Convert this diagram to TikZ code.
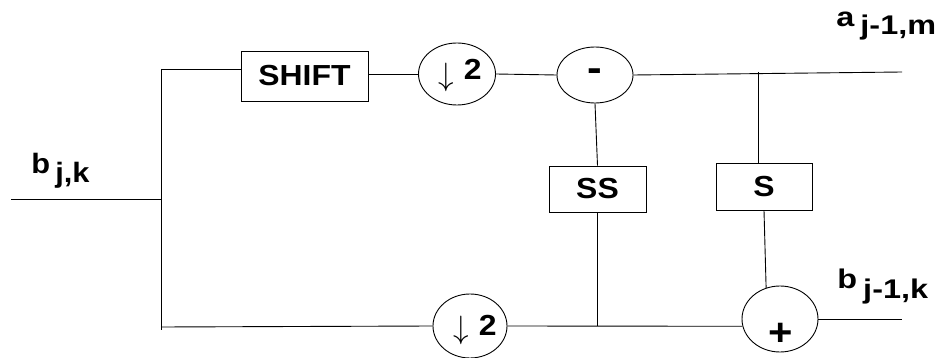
\RequirePackage{fix-cm}
\documentclass[tikz,border=0pt]{standalone}
\usepackage{fontspec}
\usepackage{graphicx}
\setmainfont{Liberation Sans}
\newfontfamily\lbl{Liberation Sans}[FakeStretch=1.1]
\newfontfamily\lblwide{Liberation Sans}[FakeStretch=1.2]
\usetikzlibrary{shapes.geometric}

\newcommand{\dnsym}{\scalebox{1.25}[1.3]{$\downarrow$}}
\newcommand{\lblfont}[1]{\lbl\bfseries\fontsize{#1}{#1}\selectfont}
\newcommand{\widefont}[1]{\lblwide\bfseries\fontsize{#1}{#1}\selectfont}

\begin{document}
\begin{tikzpicture}[x=1pt,y=-1pt,line width=0.9pt,
  txt/.style={inner sep=0pt,font=\lblfont{28}},
  wtxt/.style={inner sep=0pt,font=\widefont{27}},
  blk/.style={draw,rectangle,inner sep=0pt,font=\lblfont{29}},
  op/.style={draw,ellipse,inner sep=0pt},
  arrowtxt/.style={inner sep=0pt,anchor=base west,font=\fontsize{24.88}{30}\selectfont}]
\useasboundingbox (0,0) rectangle (943,358);

% processing blocks
\node[blk,minimum width=127pt,minimum height=50pt] (shift) at (304.5,76) {SHIFT};
\node[op,minimum width=77pt,minimum height=62pt] (dn1) at (457,74) {};
\node[op,minimum width=76pt,minimum height=56pt] (minus) at (595,75) {};
\node[blk,minimum width=97pt,minimum height=46pt] (ss) at (597.5,189) {SS};
\node[blk,minimum width=96pt,minimum height=47pt] (s) at (764,186.5) {S};
\node[op,minimum width=74pt,minimum height=64pt] (dn2) at (470,326) {};
\node[op,minimum width=76pt,minimum height=66pt] (plus) at (780,319) {};

% symbols inside the circles
\node[arrowtxt] (dn1t) at (438,86) {\dnsym\hspace{1pt}\raisebox{6pt}{\lblfont{29} 2}};
\node[arrowtxt] (dn2t) at (453,338) {\dnsym\hspace{1pt}\raisebox{3pt}{\lblfont{29} 2}};
\node[inner sep=0pt,anchor=base,font=\lblfont{40}] (minust) at (594.5,82) {-};
\node[inner sep=0pt,anchor=base,font=\lblfont{38}] (plust) at (781,345) {+};

% signal labels
\node[txt,anchor=base west] (bjk) at (31,174) {b\hspace{5pt}\raisebox{-9pt}{j,k}};
\node[wtxt,anchor=base west] (ajm) at (836,27) {a\hspace{6pt}\raisebox{-8pt}{j-1,m}};
\node[wtxt,anchor=base west] (bjmk) at (837,288) {b\hspace{6pt}\raisebox{-10pt}{j-1,k}};

% wiring points
\coordinate (in) at (11,199);
\coordinate (split) at (161,199);
\coordinate (ttop) at (161,69);
\coordinate (tbot) at (161,327);
\coordinate (aout) at (902,72);
\coordinate (tapA) at (758,72);
\coordinate (bout) at (902,319);

% connectors
\draw (in) -- (split);
\draw (ttop) -- ([yshift=-3pt]tbot);
\draw (ttop) -- (ttop -| shift.west);
\draw (dn1.west -| shift.east) -- (dn1.west);
\draw (dn1.east) -- (minus.west);
\draw (minus.east) -- (aout);
\draw (tapA) -- (tapA |- s.north);
\draw (minus.south) -- (ss.north);
\draw (s.south) -- (plus.114);
\draw (tbot) -- (dn2.west);
\draw (dn2.east) -- (plus.191);
\draw (ss.south) -- (ss.south |- dn2.east);
\draw (plus.east) -- (bout);
\end{tikzpicture}
\end{document}
